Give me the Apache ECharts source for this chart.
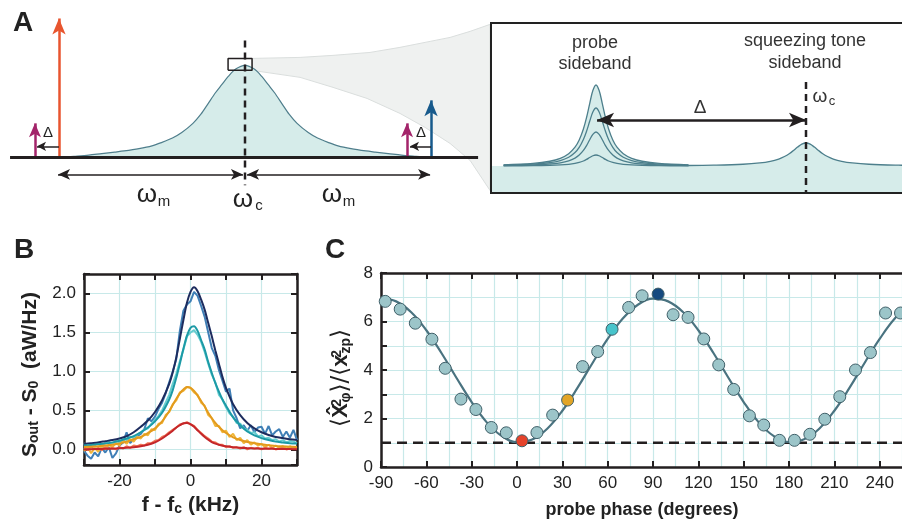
<!DOCTYPE html>
<html><head><meta charset="utf-8">
<script src="https://cdn.jsdelivr.net/npm/echarts@6/dist/echarts.min.js"></script>
<style>html,body{margin:0;padding:0;background:#fff}#c{width:902px;height:527px}</style>
</head><body><div id="c"></div><script>
// ---------------- Panel B: spectra ----------------
const bDataX = [-30,-29,-28,-27,-26,-25,-24,-23,-22,-21,-20,-19,-18,-17,-16,-15,-14,-13,-12,-11,-10,-9,-8,-7,-6,-5,-4,-3,-2,-1,0,1,2,3,4,5,6,7,8,9,10,11,12,13,14,15,16,17,18,19,20,21,22,23,24,25,26,27,28,29,30];
const blueData = [-0.02,-0.08,-0.12,-0.04,-0.09,0.02,-0.04,0.03,-0.11,-0.05,
  0.05,0.09,0.22,0.08,0.13,0.17,0.20,0.26,0.40,0.36,
  0.42,0.52,0.60,0.72,0.86,1.00,1.16,1.52,1.78,1.86,
  1.90,2.02,1.97,1.84,1.70,1.50,1.30,1.20,1.02,0.88,
  0.74,0.78,0.50,0.40,0.27,0.31,0.24,0.31,0.22,0.28,
  0.29,0.20,0.30,0.18,0.23,0.26,0.16,0.23,0.15,0.25,0.12];
const tealData = [0.08,0.04,0.07,0.05,0.09,0.06,0.08,0.10,0.07,0.11,
  0.09,0.13,0.12,0.16,0.15,0.19,0.22,0.25,0.27,0.33,
  0.38,0.43,0.50,0.60,0.70,0.84,0.97,1.13,1.28,1.45,
  1.50,1.53,1.47,1.38,1.25,1.10,0.96,0.86,0.70,0.64,
  0.54,0.46,0.42,0.34,0.33,0.27,0.25,0.21,0.22,0.17,
  0.18,0.14,0.15,0.12,0.13,0.10,0.12,0.09,0.11,0.10,0.08];
const orangeData = [-0.02,0.03,-0.05,0.02,-0.03,0.05,0.00,0.06,0.03,0.08,
  0.05,0.12,0.07,0.13,0.10,0.16,0.14,0.20,0.18,0.26,
  0.25,0.33,0.34,0.44,0.48,0.58,0.63,0.73,0.75,0.80,
  0.79,0.73,0.70,0.60,0.56,0.44,0.40,0.30,0.30,0.22,
  0.24,0.16,0.20,0.12,0.15,0.08,0.12,0.06,0.09,0.05,
  0.07,0.03,0.06,0.02,0.05,0.02,0.04,0.01,0.04,0.02,0.03];
const redData = [0.02,-0.01,0.03,0.00,0.02,-0.01,0.03,0.01,0.02,0.00,
  0.03,0.01,0.04,0.02,0.05,0.04,0.06,0.05,0.08,0.08,
  0.11,0.12,0.16,0.18,0.22,0.25,0.28,0.32,0.33,0.35,
  0.32,0.30,0.25,0.21,0.17,0.14,0.10,0.09,0.06,0.06,
  0.03,0.04,0.02,0.03,0.01,0.03,0.00,0.02,0.01,0.02,
  0.00,0.02,0.01,0.02,0.00,0.01,0.02,0.00,0.01,0.02,0.01];
const bFitX = [-30,-28,-26,-24,-22,-20,-18,-16,-14,-12,-10,-8,-6,-5,-4,-3,-2,-1,0,1,2,3,4,5,6,7,8,9,10,12,14,16,18,20,22,24,26,28,30];
const navyFit = [0.07,0.08,0.09,0.105,0.12,0.14,0.17,0.22,0.29,0.37,0.48,0.63,0.84,
  0.99,1.18,1.42,1.66,1.88,2.02,2.08,2.03,1.92,1.79,1.62,1.45,1.27,1.10,0.93,0.79,
  0.58,0.44,0.34,0.27,0.22,0.185,0.16,0.145,0.13,0.12];
const tealFit = [0.05,0.055,0.065,0.075,0.09,0.11,0.14,0.17,0.22,0.28,0.36,0.47,0.64,
  0.76,0.92,1.10,1.29,1.46,1.56,1.58,1.52,1.40,1.28,1.12,0.98,0.85,0.74,0.64,0.56,
  0.41,0.31,0.23,0.18,0.145,0.12,0.10,0.09,0.08,0.075];
const orangeFit = [0.03,0.035,0.04,0.05,0.06,0.075,0.10,0.13,0.16,0.21,0.27,0.36,0.49,
  0.57,0.65,0.72,0.77,0.80,0.79,0.75,0.69,0.62,0.55,0.47,0.40,0.34,0.29,0.245,0.21,
  0.155,0.12,0.095,0.08,0.065,0.055,0.045,0.04,0.035,0.03];
const redFit = [0.0,0.003,0.005,0.008,0.01,0.014,0.02,0.028,0.04,0.06,0.09,0.14,0.205,
  0.24,0.28,0.31,0.335,0.34,0.325,0.29,0.245,0.20,0.16,0.125,0.095,0.075,0.06,0.048,0.04,
  0.028,0.02,0.016,0.013,0.01,0.008,0.006,0.005,0.004,0.003];

// ---------------- Panel C: variance vs phase ----------------
const cPhase = [-87.2,-77.3,-67.3,-56.3,-47.5,-37.1,-27.2,-17.0,-7.1,3.3,13.2,23.6,33.5,43.4,53.4,62.9,73.9,82.8,93.4,103.3,113.2,123.6,133.5,143.4,153.8,163.3,173.7,183.6,193.8,203.7,213.6,224.0,233.9,243.9,253.8];
const cVar = [6.83,6.51,5.93,5.27,4.07,2.80,2.37,1.63,1.41,1.08,1.42,2.14,2.76,4.14,4.76,5.68,6.58,7.06,7.13,6.28,6.17,5.28,4.21,3.20,2.11,1.73,1.10,1.10,1.35,1.97,2.90,4.00,4.72,6.35,6.35];
const cHighlight = {9:'#e5432b', 12:'#e2a527', 15:'#47c4cb', 18:'#154a7f'};
const cFitPhase = [-90,-80,-70,-60,-50,-40,-30,-20,-10,0,10,20,30,40,50,60,70,80,90,100,110,120,130,140,150,160,170,180,190,200,210,220,230,240,250,260,270];
const cFitVar = [6.94,6.83,6.38,5.64,4.70,3.67,2.68,1.84,1.27,1.02,1.13,1.58,2.32,3.26,4.29,5.28,6.12,6.69,6.94,6.83,6.38,5.64,4.70,3.67,2.68,1.84,1.27,1.03,1.14,1.58,2.32,3.26,4.29,5.28,6.12,6.69,6.94];
const cXTicks = [-90,-60,-30,0,30,60,90,120,150,180,210,240];
const cShotNoise = 1;

// ---------------- Panel A: schematic ----------------
const aShapeX = [-1.0,-0.92,-0.84,-0.77,-0.7,-0.65,-0.57,-0.5,-0.45,-0.39,-0.34,-0.28,-0.237,-0.2,-0.16,-0.125,-0.09,-0.05,0,0.05,0.09,0.125,0.16,0.2,0.237,0.28,0.34,0.39,0.45,0.5,0.57,0.65,0.7,0.77,0.84,0.92,1.0];
const aShapeY = [0.0,0.012,0.025,0.042,0.058,0.07,0.095,0.125,0.16,0.21,0.27,0.37,0.47,0.58,0.70,0.79,0.88,0.96,1.0,0.96,0.88,0.79,0.70,0.58,0.47,0.37,0.27,0.21,0.16,0.125,0.095,0.07,0.058,0.042,0.025,0.012,0.0];
const coneTop = [[0.038,1.076],[0.296,1.087],[0.473,1.109],[0.672,1.141],[0.833,1.196],[0.995,1.261],[1.102,1.304],[1.210,1.370],[1.317,1.446]];
const coneBottom = [[1.317,-0.359],[1.210,-0.033],[1.102,0.152],[0.968,0.326],[0.833,0.478],[0.656,0.641],[0.473,0.761],[0.296,0.870],[0.038,0.946]];
const probeX = [-0.44,-0.3,-0.22,-0.17,-0.13,-0.1,-0.08,-0.06,-0.045,-0.03,-0.015,0,0.015,0.03,0.045,0.06,0.08,0.1,0.13,0.17,0.22,0.3,0.44];
const probeY = [0.015,0.033,0.059,0.095,0.152,0.232,0.321,0.457,0.599,0.771,0.931,1,0.931,0.771,0.599,0.457,0.321,0.232,0.152,0.095,0.059,0.033,0.015];
const probeAmps = [1.0,0.716,0.42,0.136];
const toneX = [-0.562,-0.44,-0.3,-0.22,-0.17,-0.13,-0.1,-0.08,-0.06,-0.04,-0.02,0,0.02,0.04,0.06,0.08,0.1,0.13,0.17,0.22,0.3,0.44,0.55];
const toneY = [0.022,0.037,0.076,0.133,0.204,0.304,0.425,0.536,0.673,0.822,0.949,1,0.949,0.822,0.673,0.536,0.425,0.304,0.204,0.133,0.076,0.037,0.024];
const toneCenter = 1.0, toneAmp = 0.284;

// ---------------- helpers & styles ----------------
const zip = (xs, ys) => xs.map((x, i) => [x, ys[i]]);
const FONT = '"Liberation Sans", Arial, Helvetica, sans-serif';
const AX = '#231f20';
const GRIDC = '#c8e9e9';
const TXT = '#222';
const axisLine = {onZero:false, lineStyle:{color:AX, width:2.5}};
const tickIn = {inside:true, length:6, lineStyle:{color:AX, width:2}};
const split = {show:true, lineStyle:{color:GRIDC, width:1.2}};
const lbl = (f) => ({formatter:f, color:TXT, fontSize:17, fontFamily:FONT, margin:8});

const bLine = (data, color, w, z) => ({type:'line', xAxisIndex:0, yAxisIndex:0, data, symbol:'none', smooth:false,
  lineStyle:{color, width:w}, z, silent:true, clip:true});

const cPoints = cPhase.map((p, i) => cHighlight[i] !== undefined
  ? {value:[p, cVar[i]], itemStyle:{color:cHighlight[i]}}
  : {value:[p, cVar[i]]});

const arrowLine = (from, to, color, width, size, both) => [
  {coord:from, symbol: both ? 'arrow' : 'none', symbolSize:size, lineStyle:{color, width, type:'solid'}},
  {coord:to, symbol:'arrow', symbolSize:size, lineStyle:{color, width, type:'solid'}}
];

const insetSeries = probeAmps.map(a => ({
  type:'line', xAxisIndex:5, yAxisIndex:4, symbol:'none', smooth:0.35, silent:true,
  data: probeX.map((x, i) => [x, probeY[i] * a]),
  lineStyle:{color:'#4d7f8c', width:1.3}, areaStyle:{color:'#d6ecea', opacity:1}, z:3
}));

const gText = (text, x, y, size, extra) => Object.assign({
  type:'text', x, y, z:100, silent:true,
  style:Object.assign({text, fontSize:size, fontFamily:FONT, fill:TXT, textAlign:'center', textVerticalAlign:'middle'}, extra || {})
});

const option = {
  animation:false,
  textStyle:{fontFamily:FONT},
  grid:[
    {left:84, top:274, width:213, height:191, outerBoundsMode:'none', containLabel:false},
    {left:381, top:273, width:544, height:194, outerBoundsMode:'none', containLabel:false},
    {left:0, top:1, width:490, height:230, outerBoundsMode:'none', containLabel:false},
    {left:491, top:23, width:420, height:170, outerBoundsMode:'none', containLabel:false,
     show:true, borderColor:'#222', borderWidth:2, backgroundColor:'transparent', z:10}
  ],
  xAxis:[
    {gridIndex:0, type:'value', min:-30, max:30, interval:10, axisLine, axisTick:tickIn,
     axisLabel:lbl(v => (v % 20 === 0 ? String(v) : '')), splitLine:split,
     name:'{t|f - f}{s|c}{t| (kHz)}', nameLocation:'middle', nameGap:30,
     nameTextStyle:{rich:{t:{fontSize:21, fontWeight:'bold', color:TXT, fontFamily:FONT},
                          s:{fontSize:14, fontWeight:'bold', color:TXT, fontFamily:FONT, verticalAlign:'bottom', lineHeight:10}}}},
    {gridIndex:0, type:'value', position:'top', min:-30, max:30, interval:10, axisLine, axisTick:tickIn,
     axisLabel:{show:false}, splitLine:{show:false}},
    {gridIndex:1, type:'value', min:-90, max:270, interval:30, axisLine, axisTick:tickIn,
     axisLabel:lbl(v => (cXTicks.indexOf(v) >= 0 ? String(v) : '')), splitLine:split,
     minorTick:{show:false, splitNumber:2}, minorSplitLine:{show:true, lineStyle:{color:GRIDC, width:1.2}},
     name:'probe phase (degrees)', nameLocation:'middle', nameGap:34,
     nameTextStyle:{fontSize:18, fontWeight:'bold', color:TXT, fontFamily:FONT, padding:[0,22,0,0]}},
    {gridIndex:1, type:'value', position:'top', min:-90, max:270, interval:30, axisLine, axisTick:tickIn,
     axisLabel:{show:false}, splitLine:{show:false}},
    {gridIndex:2, type:'value', min:-1.317, max:1.317, show:false},
    {gridIndex:3, type:'value', min:-0.5, max:1.5, show:false}
  ],
  yAxis:[
    {gridIndex:0, type:'value', min:-0.2, max:2.25, splitNumber:5, axisLine, axisTick:tickIn,
     axisLabel:lbl(v => (v >= 0 && v <= 2.01 && Math.abs(v * 2 - Math.round(v * 2)) < 1e-6 ? v.toFixed(1) : '')),
     splitLine:split,
     name:'{t|S}{s|out}{t| - S}{s|0}{t|  (aW/Hz)}', nameLocation:'middle', nameGap:43,
     nameTextStyle:{padding:[0,10,0,0], rich:{t:{fontSize:21, fontWeight:'bold', color:TXT, fontFamily:FONT},
                          s:{fontSize:14, fontWeight:'bold', color:TXT, fontFamily:FONT, verticalAlign:'bottom', lineHeight:10}}}},
    {gridIndex:0, type:'value', position:'right', min:-0.2, max:2.25, splitNumber:5, axisLine, axisTick:tickIn,
     axisLabel:{show:false}, splitLine:{show:false}},
    {gridIndex:1, type:'value', min:0, max:8, interval:1, axisLine, axisTick:tickIn,
     axisLabel:lbl(v => (v % 2 === 0 ? String(v) : '')), splitLine:split,
     name:'{br|\u27e8}{x|X\u0302}{sp|2}{sb|\u03c6}{br|\u27e9/\u27e8}{x|x}{sp|2}{sb|zp}{br|\u27e9}',
     nameLocation:'middle', nameGap:22,
     nameTextStyle:{padding:[0,16,0,0], rich:{
       br:{fontSize:23, color:TXT, fontFamily:'"DejaVu Sans", sans-serif'},
       x:{fontSize:22, fontWeight:'bold', color:TXT, fontFamily:FONT},
       sp:{fontSize:14, fontWeight:'bold', color:TXT, fontFamily:FONT, verticalAlign:'top', lineHeight:8, width:1},
       sb:{fontSize:14, fontWeight:'bold', color:TXT, fontFamily:FONT, verticalAlign:'bottom', lineHeight:8}}}},
    {gridIndex:2, type:'value', min:-0.8, max:1.7, show:false},
    {gridIndex:3, type:'value', min:-0.333, max:1.765, show:false}
  ],
  series:[
    // ---- B: data then fits
    bLine(zip(bDataX, blueData), '#3f7fb6', 2, 2),
    bLine(zip(bDataX, tealData), '#66cdd0', 2, 2),
    bLine(zip(bDataX, orangeData), '#f0b63a', 2, 2),
    bLine(zip(bDataX, redData), '#f07454', 2, 2),
    Object.assign(bLine(zip(bFitX, navyFit), '#1d2c5e', 2, 3), {smooth:0.3}),
    Object.assign(bLine(zip(bFitX, tealFit), '#1c9aa6', 2, 3), {smooth:0.3}),
    Object.assign(bLine(zip(bFitX, orangeFit), '#e39b1d', 2, 3), {smooth:0.3}),
    Object.assign(bLine(zip(bFitX, redFit), '#c4262a', 2, 3), {smooth:0.3}),
    // ---- C
    {type:'line', xAxisIndex:2, yAxisIndex:2, symbol:'none', silent:true, z:2,
     data:[[-90, cShotNoise],[270, cShotNoise]], lineStyle:{color:AX, width:2.5, type:[10,6]}},
    {type:'line', xAxisIndex:2, yAxisIndex:2, symbol:'none', silent:true, smooth:0.4, z:3,
     data:zip(cFitPhase, cFitVar), lineStyle:{color:'#4a7380', width:2.2}},
    {type:'scatter', xAxisIndex:2, yAxisIndex:2, symbol:'circle', symbolSize:12, silent:true, z:4,
     data:cPoints, itemStyle:{color:'#9cc5c9', borderColor:'#3f5f68', borderWidth:1, opacity:1}},
    // ---- A: cone
    {type:'custom', xAxisIndex:4, yAxisIndex:3, silent:true, z:1, data:[[0,0]],
     renderItem:(params, api) => ({type:'polygon',
       shape:{points: coneTop.concat(coneBottom).map(p => api.coord(p))},
       style:{fill:'#eff1f0', stroke:'#dadedd', lineWidth:1}})},
    // ---- A: cavity lorentzian
    {type:'line', xAxisIndex:4, yAxisIndex:3, symbol:'none', smooth:0.3, silent:true, z:2,
     data:zip(aShapeX, aShapeY), lineStyle:{color:'#4f7e8c', width:1.2}, areaStyle:{color:'#d6ecea', opacity:1}},
    // ---- A: box at peak
    {type:'line', xAxisIndex:4, yAxisIndex:3, symbol:'none', silent:true, z:5,
     data:[[-0.091,0.946],[0.038,0.946],[0.038,1.076],[-0.091,1.076],[-0.091,0.946]], lineStyle:{color:AX, width:1.5}},
    // ---- A: dashed centre line
    {type:'line', xAxisIndex:4, yAxisIndex:3, symbol:'none', silent:true, z:4,
     data:[[0,1.27],[0,-0.304]], lineStyle:{color:AX, width:2.5, type:[7,5]}},
    // ---- A: baseline with arrows
    {type:'line', xAxisIndex:4, yAxisIndex:3, symbol:'none', silent:true, z:6,
     data:[[-1.263,0],[1.253,0]], lineStyle:{color:AX, width:3},
     markLine:{silent:true, animation:false, label:{show:false}, emphasis:{disabled:true},
       data:[
         arrowLine([-1.0,0],[-1.0,1.51],'#e8552f',2.5,[10,16],false),
         arrowLine([-1.129,0],[-1.129,0.37],'#a3246a',2.5,[9,14],false),
         arrowLine([0.871,0],[0.871,0.37],'#a3246a',2.5,[9,14],false),
         arrowLine([1.0,0],[1.0,0.62],'#175a8c',2.5,[10,16],false),
         arrowLine([-1.0,0.12],[-1.118,0.12],AX,1.5,[7,9],false),
         arrowLine([1.0,0.12],[0.887,0.12],AX,1.5,[7,9],false),
         arrowLine([-1.005,-0.185],[-0.011,-0.185],AX,1.6,[8,12],true),
         arrowLine([0.011,-0.185],[0.995,-0.185],AX,1.6,[8,12],true)
       ]}},
    // ---- inset: baseline fill
    {type:'line', xAxisIndex:5, yAxisIndex:4, symbol:'none', silent:true, z:2,
     data:[[-0.5,0],[1.5,0]], lineStyle:{width:0}, areaStyle:{color:'#d6ecea', opacity:1, origin:'start'}},
    ...insetSeries,
    {type:'line', xAxisIndex:5, yAxisIndex:4, symbol:'none', smooth:0.35, silent:true, z:3,
     data:toneX.map((x, i) => [toneCenter + x, toneY[i] * toneAmp]),
     lineStyle:{color:'#4d7f8c', width:1.3}, areaStyle:{color:'#d6ecea', opacity:1}},
    {type:'line', xAxisIndex:5, yAxisIndex:4, symbol:'none', silent:true, z:5,
     data:[[toneCenter,1.037],[toneCenter,-0.333]], lineStyle:{color:AX, width:2.5, type:[7,5]},
     markLine:{silent:true, animation:false, label:{show:false}, emphasis:{disabled:true},
       data:[arrowLine([0.005,0.568],[1.0,0.568],AX,2.6,[11,17],true)]}}
  ],
  graphic:{elements:[
    gText('A', 23, 23, 28, {fontWeight:'bold'}),
    gText('B', 24, 250, 28, {fontWeight:'bold'}),
    gText('C', 335, 250, 28, {fontWeight:'bold'}),
    gText('\u0394', 48, 133, 15),
    gText('\u0394', 421, 133, 15),
    gText('\u03c9', 147, 195, 26),
    gText('m', 164, 202, 15),
    gText('\u03c9', 243, 200, 26),
    gText('c', 259, 206, 15),
    gText('\u03c9', 332, 195, 26),
    gText('m', 349, 202, 15),
    gText('probe', 595, 43, 18, {fill:'#333'}),
    gText('sideband', 595, 64, 18, {fill:'#333'}),
    gText('squeezing tone', 805, 41, 18, {fill:'#333'}),
    gText('sideband', 805, 63, 18, {fill:'#333'}),
    gText('\u0394', 700, 108, 19, {fill:'#333'}),
    gText('\u03c9', 820, 97, 19, {fill:'#333'}),
    gText('c', 832, 101, 13, {fill:'#333'})
  ]}
};
const chart = echarts.init(document.getElementById('c'));
chart.setOption(option);
</script></body></html>
